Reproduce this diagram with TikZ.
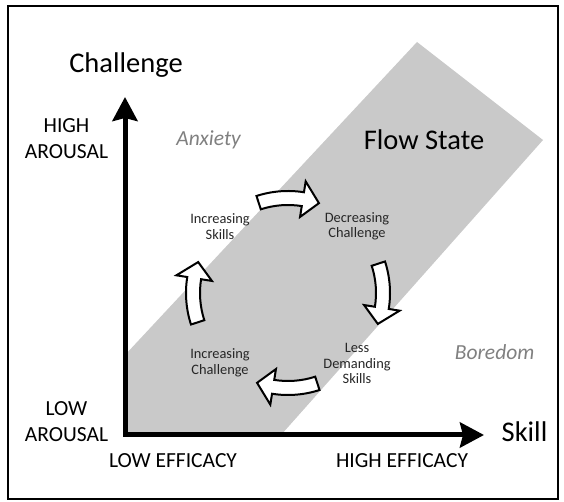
\documentclass[tikz,border=0pt]{standalone}
\usepackage{fontspec}
\setmainfont{Carlito}
\usepackage{xcolor}
\usepackage{tikz}
\usetikzlibrary{arrows.meta}

\begin{document}
\begin{tikzpicture}[
        x=1pt, y=1pt,
        % 统一的文字与图形风格
        title_label/.style={font=\fontsize{28.5}{30}\selectfont, text=black},
        axis_label/.style={font=\fontsize{21.5}{26}\selectfont, align=center, text=black},
        zone_label/.style={font=\fontsize{21.5}{24}\selectfont\itshape, text=black!50},
        step_label/.style={font=\fontsize{14.4}{15.5}\selectfont, align=center, text=black!85},
        axis_line/.style={line width=5pt, line join=miter, arrows={Stealth[length=24pt,width=25pt,inset=3pt]-Stealth[length=24pt,width=25pt,inset=3pt]}},
        cycle_arrow/.style={draw=black, line width=2pt, fill=white, line join=miter},
        flow_band/.style={fill=black!21}
    ]

    \useasboundingbox (0,0) rectangle (564,502);

    % ==========================================
    % 1. 外框、流动带与坐标轴
    % ==========================================
    \draw[line width=1.8pt] (8,3) rectangle (558,496);

    \coordinate (origin) at (125,67);
    \coordinate (y_tip) at (125,405);
    \coordinate (x_tip) at (484,67);

    \fill[flow_band] (origin) -- (125,147) -- (417,460) -- (543,362) -- (281,67) -- cycle;

    \draw[axis_line] (y_tip) -- (origin) -- (x_tip);

    % ==========================================
    % 2. 中间的顺时针循环箭头 (圆心 288,209)
    % ==========================================
    \begin{scope}[shift={(288,209)}]
        \foreach \a in {90,0,-90,180} {
            \draw[cycle_arrow] (\a+18:102) arc[start angle=\a+18, end angle=\a-9, radius=102]
                -- (\a-9:113) -- (\a-19:95) -- (\a-9:77) -- (\a-9:88)
                arc[start angle=\a-9, end angle=\a+18, radius=88] -- cycle;
        }
    \end{scope}

    % ==========================================
    % 3. 文字标签
    % ==========================================
    \node[title_label] (challenge) at (126,437) {Challenge};
    \node[title_label] (skill) at (524.5,70) {Skill};
    \node[title_label] (flow_state) at (424,362) {Flow State};

    \node[axis_label] (high_arousal) at (66.5,363) {HIGH\\AROUSAL};
    \node[axis_label] (low_arousal) at (66.5,80) {LOW\\AROUSAL};
    \node[axis_label] (low_efficacy) at (173,41) {LOW EFFICACY};
    \node[axis_label] (high_efficacy) at (402,41) {HIGH EFFICACY};

    \node[zone_label] (anxiety) at (208.6,362) {Anxiety};
    \node[zone_label] (boredom) at (494.6,150) {Boredom};

    \node[step_label] (inc_skills) at (220,275.5) {Increasing\\Skills};
    \node[step_label] (dec_challenge) at (357,275.5) {Decreasing\\Challenge};
    \node[step_label] (less_demanding) at (357,138.5) {Less\\Demanding\\Skills};
    \node[step_label] (inc_challenge) at (220,139) {Increasing\\Challenge};

\end{tikzpicture}
\end{document}
